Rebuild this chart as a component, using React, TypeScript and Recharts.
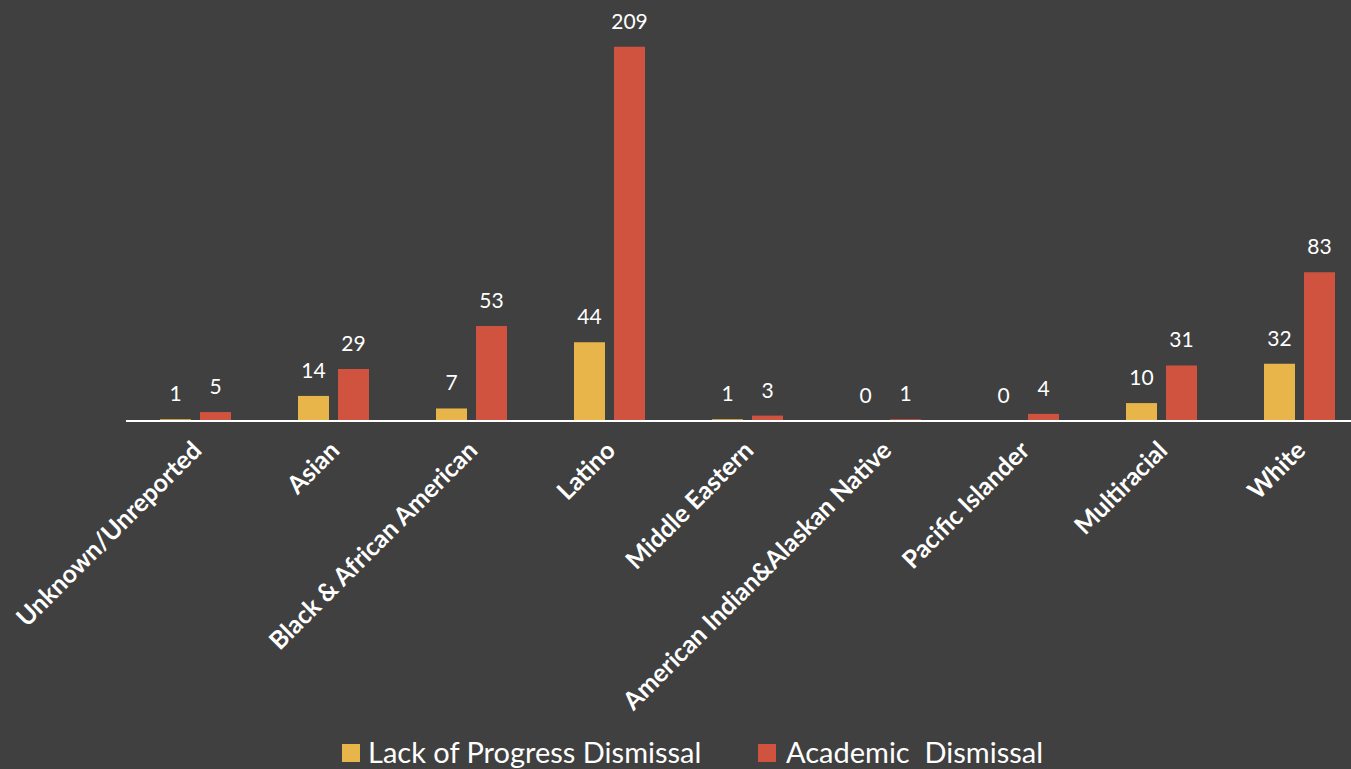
import React from 'react';
import { BarChart, Bar, XAxis, YAxis, LabelList, Legend } from 'recharts';

const categories = [
  'Unknown/Unreported',
  'Asian',
  'Black & African American',
  'Latino',
  'Middle Eastern',
  'American Indian&Alaskan Native',
  'Pacific Islander',
  'Multiracial',
  'White',
];
const lackOfProgress = [1, 14, 7, 44, 1, 0, 0, 10, 32];
const academic = [5, 29, 53, 209, 3, 1, 4, 31, 83];
const seriesNames = ['Lack of Progress Dismissal', 'Academic  Dismissal'];

const data = categories.map((name, i) => ({
  name,
  lack: lackOfProgress[i],
  academic: academic[i],
}));

const BG = '#404040';
const YELLOW = '#E8B54B';
const RED = '#D0533F';
const FONT = 'Lato, "Open Sans", sans-serif';

// zero-value bars keep a hairline so their "0" label is still drawn
const keepZero = (value: any) => (value === 0 ? 0.01 : 0);

const AngledTick = (props: any) => {
  const { x, y, payload } = props;
  const tx = x + 8;
  const ty = y + 31;
  return (
    <text
      x={tx}
      y={ty}
      transform={`rotate(-45, ${tx}, ${ty})`}
      textAnchor="end"
      fill="#ffffff"
      fontFamily={FONT}
      fontWeight={700}
      fontSize={25}
    >
      {payload.value}
    </text>
  );
};

const LegendBox = () => (
  <svg width={1351} height={48}>
    <rect x={342} y={23} width={18} height={18} fill={YELLOW} />
    <text x={368} y={42} fill="#ffffff" fontFamily={FONT} fontSize={29}>
      {seriesNames[0]}
    </text>
    <rect x={758} y={23} width={18} height={18} fill={RED} />
    <text x={786} y={42} fill="#ffffff" fontFamily={FONT} fontSize={29} style={{ whiteSpace: 'pre' }}>
      {seriesNames[1]}
    </text>
  </svg>
);

export default function App() {
  return (
    <div
      style={{
        position: 'absolute',
        left: 0,
        top: 0,
        width: 1351,
        height: 769,
        overflow: 'hidden',
        background: BG,
      }}
    >
      <BarChart
        width={1368}
        height={769}
        data={data}
        margin={{ top: 27, right: 0, left: 126, bottom: 0 }}
        barSize={31}
        barGap={9}
      >
        <XAxis
          dataKey="name"
          interval={0}
          height={300}
          tick={<AngledTick />}
          tickLine={false}
          tickSize={0}
          tickMargin={0}
          axisLine={{ stroke: '#ffffff', strokeWidth: 2 }}
        />
        <YAxis hide domain={[0, 220]} />
        <Legend
          verticalAlign="bottom"
          height={48}
          content={<LegendBox />}
          wrapperStyle={{ left: 0, width: 1351 }}
        />
        <Bar
          dataKey="lack"
          name={seriesNames[0]}
          fill={YELLOW}
          minPointSize={keepZero}
          isAnimationActive={false}
        >
          <LabelList
            dataKey="lack"
            position="top"
            offset={18}
            fill="#ffffff"
            fontFamily={FONT}
            fontSize={21}
          />
        </Bar>
        <Bar
          dataKey="academic"
          name={seriesNames[1]}
          fill={RED}
          minPointSize={keepZero}
          isAnimationActive={false}
        >
          <LabelList
            dataKey="academic"
            position="top"
            offset={18}
            fill="#ffffff"
            fontFamily={FONT}
            fontSize={21}
          />
        </Bar>
      </BarChart>
    </div>
  );
}
